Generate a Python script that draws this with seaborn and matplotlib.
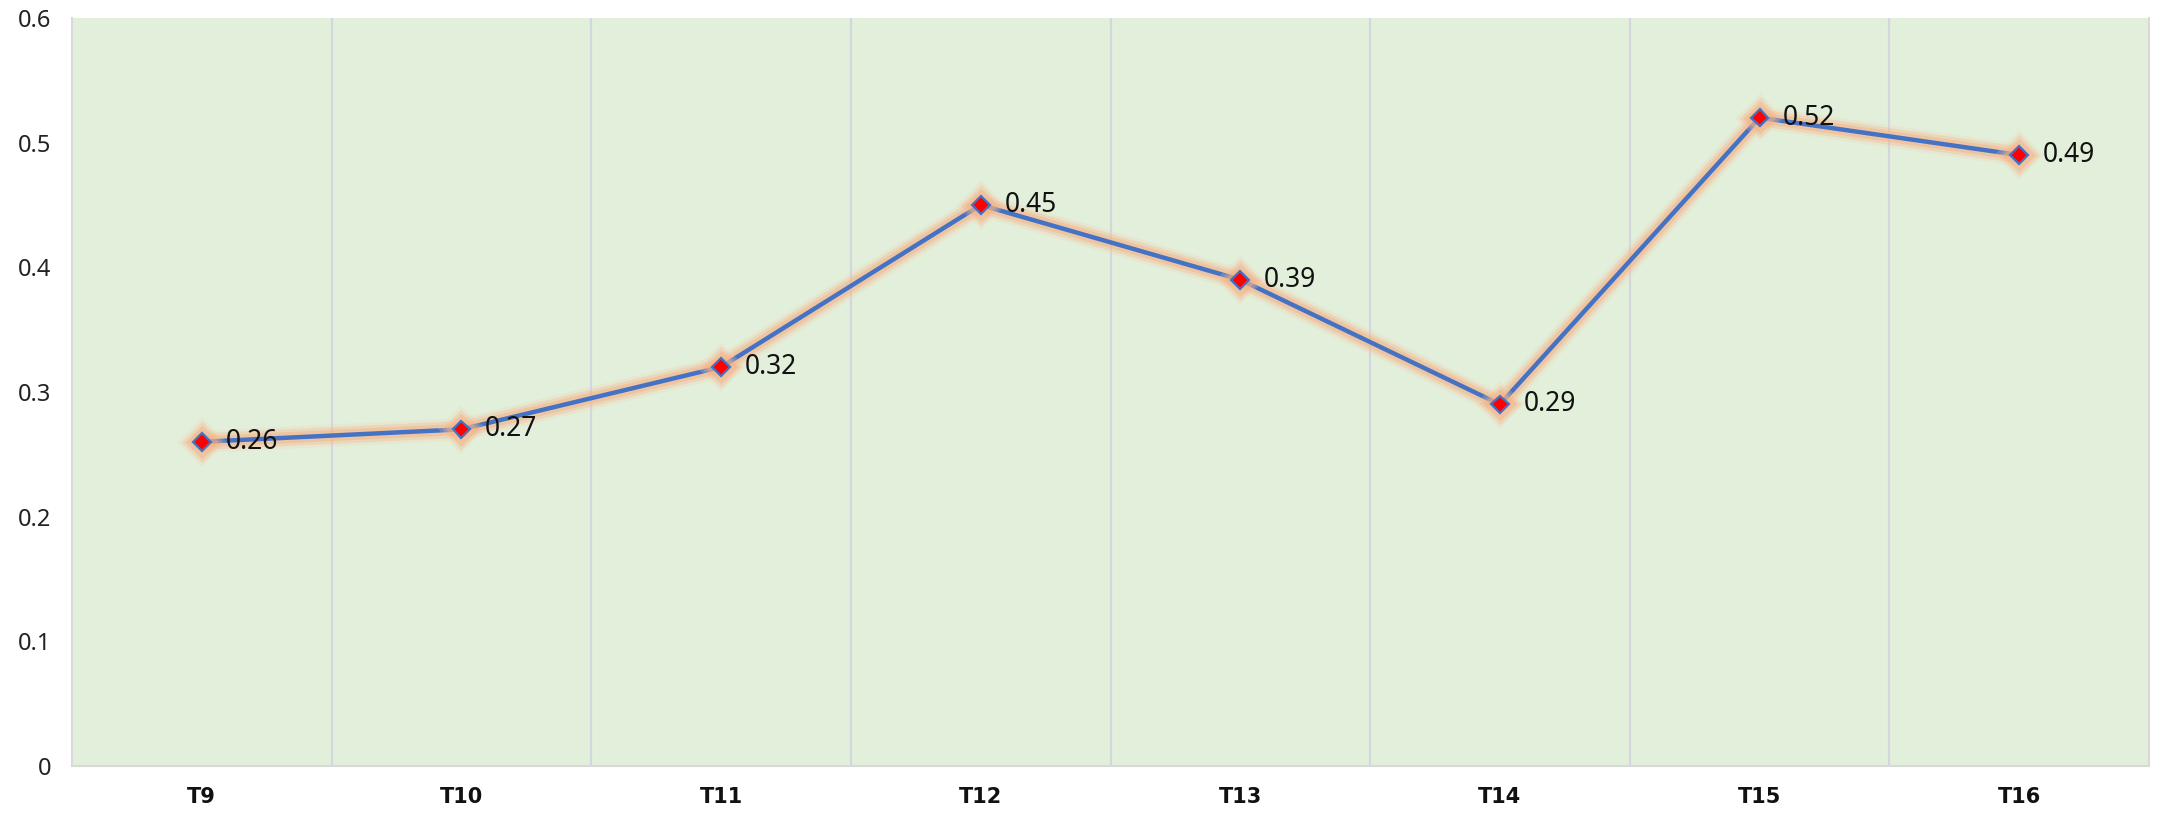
import matplotlib
matplotlib.use("Agg")
import matplotlib.pyplot as plt
import matplotlib.patheffects as pe
from matplotlib.ticker import FixedLocator
import pandas as pd
import seaborn as sns

# chart data
categories = ["T9", "T10", "T11", "T12", "T13", "T14", "T15", "T16"]
values = [0.26, 0.27, 0.32, 0.45, 0.39, 0.29, 0.52, 0.49]
y_ticks = [0, 0.1, 0.2, 0.3, 0.4, 0.5, 0.6]
y_tick_labels = ["0", "0.1", "0.2", "0.3", "0.4", "0.5", "0.6"]

df = pd.DataFrame({"period": categories, "value": values})

sns.set_style("white")
plt.rcParams["font.family"] = ["Noto Sans", "DejaVu Sans"]

fig, ax = plt.subplots(figsize=(21.62, 8.14), dpi=100)
fig.subplots_adjust(left=0.0333, right=0.994, top=0.978, bottom=0.059)

ax.set_facecolor("#E2EFDA")

# soft orange glow under the line
glow = [
    pe.Stroke(linewidth=16, foreground="#F8CBAD", alpha=0.22),
    pe.Stroke(linewidth=12, foreground="#F4B183", alpha=0.3),
    pe.Stroke(linewidth=8, foreground="#F4B183", alpha=0.45),
    pe.Normal(),
]

sns.pointplot(
    data=df, x="period", y="value", order=categories, ax=ax,
    errorbar=None, color="#4472C4", linewidth=3.2,
    marker="D", markersize=9, markerfacecolor="#FF0000",
    markeredgecolor="#4472C4", markeredgewidth=1.6,
)
for line in ax.lines:
    line.set_path_effects(glow)

for i, v in enumerate(values):
    ax.annotate(f"{v:g}", xy=(i, v), xytext=(17, 0), textcoords="offset points",
                ha="left", va="center", fontsize=19, color="#111111")

ax.set_xlim(-0.5, len(categories) - 0.5)
ax.set_ylim(0, 0.6)
ax.set_yticks(y_ticks)
ax.set_yticklabels(y_tick_labels)
ax.set_xticks(range(len(categories)))
ax.set_xticklabels(categories, fontweight="bold", fontsize=15, family="DejaVu Sans")
ax.set_xlabel("")
ax.set_ylabel("")

# vertical gridlines between categories
ax.xaxis.set_minor_locator(FixedLocator([i + 0.5 for i in range(len(categories) - 1)]))
ax.grid(which="minor", axis="x", color="#D3D6DE", linewidth=1.5)
ax.grid(which="major", visible=False)
ax.tick_params(which="both", length=0)
ax.tick_params(axis="y", labelsize=17, pad=15, colors="#222222")
ax.tick_params(axis="x", pad=15, colors="#111111")

for side in ["left", "bottom", "right"]:
    ax.spines[side].set_visible(True)
    ax.spines[side].set_color("#D9D9D9")
    ax.spines[side].set_linewidth(1.5)
ax.spines["top"].set_visible(False)

plt.savefig("out.png", dpi=100)
plt.close()
